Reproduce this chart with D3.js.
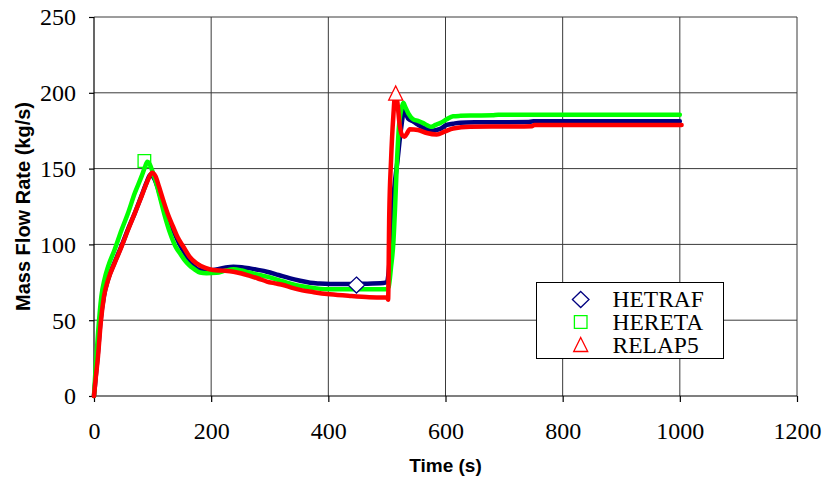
<!DOCTYPE html>
<html>
<head>
<meta charset="utf-8">
<script src="https://cdn.jsdelivr.net/npm/d3@7"></script>
<style>
  html, body { margin: 0; padding: 0; background: #fff; }
  svg { display: block; }
  .tick text, .serif-label { font-family: "Liberation Serif", "Times New Roman", Times, serif; }
</style>
</head>
<body>
<svg id="chart" width="822" height="477"></svg>
<script>
// Axis ticks
const xTicks = [0, 200, 400, 600, 800, 1000, 1200];
const yTicks = [0, 50, 100, 150, 200, 250];

// Series names (legend order)
const seriesNames = ["HETRAF", "HERETA", "RELAP5"];

// Mass flow rate (kg/s) against time (s): [time, flow]
const hetrafData = [
  [0, 0], [3, 13], [7, 30], [11, 49], [17, 66], [24, 77], [35, 88], [47, 99], [58, 110],
  [70, 121], [81, 132], [90, 141], [96, 146], [102, 144], [110, 136], [118, 125], [127, 116],
  [135, 109.5], [145, 101], [152, 96], [160, 91], [169, 86], [181, 83], [195, 82.5], [209, 83.5],
  [225, 84.8], [238, 85.3], [252, 85], [266, 84.2], [280, 83.2], [295, 82], [315, 79.8],
  [335, 77.6], [352, 76], [369, 74.7], [385, 74.2], [403, 73.9], [430, 73.8], [460, 74],
  [494, 74.5], [500, 75], [503, 82], [507, 105], [512, 135], [518, 155], [524, 176],
  [530, 188.6], [536, 183], [545, 181], [553, 179], [562, 177], [576, 175], [590, 176],
  [602, 178.8], [613, 179.6], [625, 180.3], [650, 180.5], [700, 180.6], [740, 180.7],
  [750, 181.2], [800, 181.2], [900, 181.2], [1000, 181.2]
];

const heretaData = [
  [0, 0], [3, 20], [7, 42], [12.5, 65.5], [18, 77], [24, 85.3], [35, 96.3], [47, 109.5],
  [58, 120.5], [69.5, 133.7], [81, 144.7], [87, 151], [91, 154.5], [95, 153], [100, 148],
  [105, 142], [110, 135], [120, 120], [130, 107.3], [140, 98], [147, 94], [155, 89.5],
  [162, 86.5], [170, 84], [181, 81.5], [192, 81], [209, 81.3], [225, 82.8], [238, 83.6],
  [252, 82.8], [266, 81.3], [280, 80], [295, 78.7], [323, 75.5], [352, 72.6], [380, 71],
  [403, 70.4], [450, 70.4], [494, 70.4], [500, 70.6], [503, 72], [507, 85], [511, 101],
  [514, 125], [517, 153.5], [521, 180], [525, 190], [528, 193.5], [531, 191], [536.5, 186.5],
  [545, 182.5], [553, 181.5], [562, 180], [569, 178.5], [576, 177.6], [583, 178.8],
  [590.6, 180], [602, 182.5], [613, 184.5], [625, 184.8], [650, 185], [680, 185.2],
  [690, 185.6], [800, 185.6], [1000, 185.6]
];

const relap5Data = [
  [0, 0], [3, 12], [6.8, 26], [11.4, 48], [17, 65.5], [24, 76.5], [35, 87.5], [47, 98.5],
  [58, 109.5], [69.5, 120.5], [81, 131.5], [92, 142.5], [99, 147.3], [105, 145], [111, 138],
  [118, 129.3], [126, 120], [135, 111.7], [143, 104.5], [152.5, 98.5], [163, 92], [175, 87.5],
  [190, 84.5], [203.6, 83.1], [220, 82.7], [238, 82], [252, 80.8], [266, 79.2], [280, 77.5],
  [295, 75.5], [309, 74.3], [323, 73.2], [337, 71.5], [352, 70], [375, 68.5], [403, 67.1],
  [437, 66], [470, 65.2], [494, 65], [500, 65], [502, 63.5], [504, 120], [507, 155],
  [511, 185], [514, 198.5], [517, 196], [522, 178], [526, 172], [530, 171], [534, 173],
  [539, 176], [553, 175.5], [568, 173.5], [585, 172.5], [599, 174.5], [613, 176.5],
  [642, 177.6], [700, 177.8], [748, 178], [752, 178.8], [1003, 178.8]
];

// One marker per series: [time, flow]
const hetrafMarker = [448, 73.2];
const heretaMarker = [86, 155];
const relap5Marker = [515, 199.5];

const seriesColors = ["#000080", "#00ff00", "#ff0000"];
const seriesData = [hetrafData, heretaData, relap5Data];
const seriesMarkers = [hetrafMarker, heretaMarker, relap5Marker];
const markerShapes = ["diamond", "square", "triangle"];

const svg = d3.select("#chart");
const serif = "'Liberation Serif', 'Times New Roman', Times, serif";
const sans = "'Liberation Sans', Arial, Helvetica, sans-serif";

const plot = { left: 94, right: 797, top: 17, bottom: 396 };
const x = d3.scaleLinear().domain([0, 1200]).range([plot.left, plot.right]);
const y = d3.scaleLinear().domain([0, 250]).range([plot.bottom, plot.top]);

// Grid
const grid = svg.append("g").attr("stroke", "#3a3a3a").attr("stroke-width", 1);
grid.selectAll("line.v").data(xTicks.slice(1)).join("line")
  .attr("x1", d => x(d)).attr("x2", d => x(d))
  .attr("y1", plot.top).attr("y2", plot.bottom);
grid.selectAll("line.h").data(yTicks.slice(1)).join("line")
  .attr("x1", plot.left).attr("x2", plot.right)
  .attr("y1", d => y(d)).attr("y2", d => y(d));

// Axes
const xAxis = svg.append("g")
  .attr("transform", `translate(0,${plot.bottom})`)
  .call(d3.axisBottom(x).tickValues(xTicks).tickSize(6).tickPadding(20).tickFormat(d3.format("d")));
const yAxis = svg.append("g")
  .attr("transform", `translate(${plot.left},0)`)
  .call(d3.axisLeft(y).tickValues(yTicks).tickSize(5).tickPadding(13).tickFormat(d3.format("d")));

[xAxis, yAxis].forEach(g => {
  g.attr("font-family", serif).attr("font-size", 24);
  g.select(".domain").attr("stroke", "#000").attr("stroke-width", 1.2);
  g.selectAll(".tick line").attr("stroke", "#000").attr("stroke-width", 1.2);
  g.selectAll(".tick text")
    .attr("fill", "#000")
    .attr("font-family", serif)
    .style("font-family", serif)
    .style("font-size", "24px");
});
xAxis.select(".domain").attr("d", `M${plot.left},0H${plot.right}`);
yAxis.select(".domain").attr("d", `M0,${plot.bottom}V${plot.top}`);
xAxis.selectAll(".tick text").attr("dy", "0.71em");
yAxis.selectAll(".tick text").attr("dy", "0.33em");

// Axis titles
svg.append("text")
  .attr("x", (plot.left + plot.right) / 2).attr("y", 472)
  .attr("text-anchor", "middle")
  .style("font-family", sans).style("font-weight", "bold").style("font-size", "19px")
  .text("Time (s)");
svg.append("text")
  .attr("transform", `translate(30,${(plot.top + plot.bottom) / 2}) rotate(-90)`)
  .attr("text-anchor", "middle")
  .style("font-family", sans).style("font-weight", "bold").style("font-size", "20px")
  .text("Mass Flow Rate (kg/s)");

// Series lines
const line = d3.line()
  .x(d => x(d[0]))
  .y(d => y(d[1]))
  .curve(d3.curveMonotoneX);

const lines = svg.append("g");
seriesData.forEach((data, i) => {
  lines.append("path")
    .datum(data)
    .attr("d", line)
    .attr("fill", "none")
    .attr("stroke", seriesColors[i])
    .attr("stroke-width", 4.5)
    .attr("stroke-linejoin", "round")
    .attr("stroke-linecap", "round");
});

// Marker shapes
function markerPath(shape) {
  if (shape === "diamond") return "M0,-8L8.3,0L0,8L-8.3,0Z";
  if (shape === "square") return "M-6.3,-6.3H6.3V6.3H-6.3Z";
  return "M0,-7.5L7,6.5H-7Z";
}
const markerFill = ["#fff", "none", "#fff"];

svg.append("g").selectAll("path")
  .data(seriesMarkers)
  .join("path")
  .attr("transform", d => `translate(${x(d[0])},${y(d[1])})`)
  .attr("d", (d, i) => markerPath(markerShapes[i]))
  .attr("fill", (d, i) => markerFill[i])
  .attr("stroke", (d, i) => seriesColors[i])
  .attr("stroke-width", 1.3);

// Legend
const legend = svg.append("g");
legend.append("rect")
  .attr("x", 536.5).attr("y", 282.5).attr("width", 187).attr("height", 76)
  .attr("fill", "#fff").attr("stroke", "#000").attr("stroke-width", 1);
const rowY = [299.5, 322, 345];
seriesNames.forEach((name, i) => {
  legend.append("path")
    .attr("transform", `translate(580.7,${rowY[i]})`)
    .attr("d", markerPath(markerShapes[i]))
    .attr("fill", "#fff")
    .attr("stroke", seriesColors[i])
    .attr("stroke-width", 1.3);
  legend.append("text")
    .attr("class", "serif-label")
    .attr("x", 612.5).attr("y", rowY[i] + 7.8)
    .style("font-family", serif).style("font-size", "23.5px")
    .attr("fill", "#000")
    .text(name);
});
</script>
</body>
</html>
